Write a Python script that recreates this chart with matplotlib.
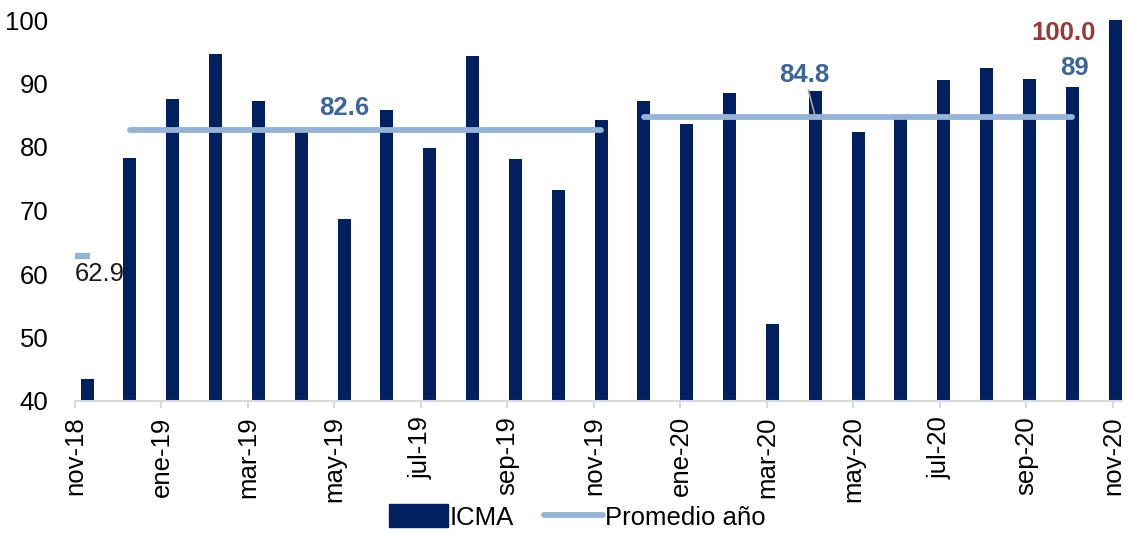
import matplotlib
matplotlib.use("Agg")
import matplotlib.pyplot as plt
from matplotlib.lines import Line2D
from matplotlib.patches import Patch

plt.rcParams['font.family'] = ['Liberation Sans', 'DejaVu Sans']

months = ["nov-18", "dic-18", "ene-19", "feb-19", "mar-19", "abr-19", "may-19", "jun-19",
          "jul-19", "ago-19", "sep-19", "oct-19", "nov-19", "dic-19", "ene-20", "feb-20",
          "mar-20", "abr-20", "may-20", "jun-20", "jul-20", "ago-20", "sep-20", "oct-20", "nov-20"]
icma = [43.5, 78.2, 87.6, 94.6, 87.2, 82.5, 68.7, 85.8, 79.8, 94.4, 78.1, 73.2, 84.3,
        87.2, 83.6, 88.5, 52.2, 88.8, 82.4, 84.5, 90.6, 92.4, 90.7, 89.4, 100.0]
avg_2018 = 62.9
avg_2019 = 82.6
avg_2020 = 84.8
tick_labels = months[::2]

BAR = '#002060'
LINE = '#95b3d7'
BLUE_TXT = '#3c6699'
RED_TXT = '#983a37'

fig = plt.figure(figsize=(11.28, 5.34), dpi=100)
ax = fig.add_axes([75/1128, 133/534, (1122-75)/1128, (401-20)/534])

n = len(months)
step = (24.05 - 0.28) / 24
xs = [0.28 + i * step for i in range(n)]
ax.bar(xs, [v - 40 for v in icma], bottom=40, width=0.30, color=BAR, zorder=2)

# yearly averages
x19 = xs[1:13]
x20 = xs[13:24]
ax.plot(x19, [avg_2019] * len(x19), color=LINE, lw=4.2, solid_capstyle='round', zorder=3)
ax.plot(x20, [avg_2020] * len(x20), color=LINE, lw=4.2, solid_capstyle='round', zorder=3)
ax.plot([xs[0] - 0.12], [avg_2018], marker='_', markersize=11, markeredgewidth=4.5,
        color=LINE, zorder=3)

fs = 18.5
ax.text(xs[0] - 0.28, avg_2018 - 1.0, f"{avg_2018:.1f}", fontsize=fs, color='#1a1a1a',
        ha='left', va='top')
ax.text(xs[6], avg_2019 + 1.6, f"{avg_2019:.1f}", fontsize=fs, color=BLUE_TXT,
        fontweight='bold', ha='center', va='bottom')
ax.annotate(f"{avg_2020:.1f}", xy=(xs[17], avg_2020), xytext=(xs[17] - 0.25, avg_2020 + 4.6),
            fontsize=fs, color=BLUE_TXT, fontweight='bold', ha='center', va='bottom',
            arrowprops=dict(arrowstyle='-', color='#a6a6a6', lw=1.2, shrinkA=0, shrinkB=0))
ax.text(xs[23] + 0.05, icma[23] + 1.2, f"{icma[23]:.0f}", fontsize=fs, color=BLUE_TXT,
        fontweight='bold', ha='center', va='bottom')
ax.text(xs[24] - 1.18, 96.0, f"{icma[24]:.1f}", fontsize=fs, color=RED_TXT,
        fontweight='bold', ha='center', va='bottom')

ax.set_xlim(0, 24.21)
ax.set_ylim(40, 100)
ax.set_yticks(range(40, 101, 10))
ax.set_xticks(range(0, n, 2))
ax.set_xticklabels(tick_labels, rotation=90)
ax.tick_params(axis='y', length=0, labelsize=fs, pad=19)
ax.tick_params(axis='x', length=5, width=1.5, color='#d9d9d9', labelsize=fs, pad=6)
for s in ['top', 'right', 'left']:
    ax.spines[s].set_visible(False)
ax.spines['bottom'].set_color('#d9d9d9')
ax.spines['bottom'].set_linewidth(1.5)

handles = [Patch(facecolor=BAR, edgecolor=BAR),
           Line2D([0], [0], color=LINE, lw=4.2, solid_capstyle='round')]
fig.legend(handles, ["ICMA", "Promedio año"], loc='center', bbox_to_anchor=(577/1128, 1 - 517/534),
           ncol=2, frameon=False, fontsize=fs, handlelength=2.3, handleheight=1.0,
           handletextpad=0.05, columnspacing=1.2, borderpad=0)

fig.savefig("out.png", dpi=100)
